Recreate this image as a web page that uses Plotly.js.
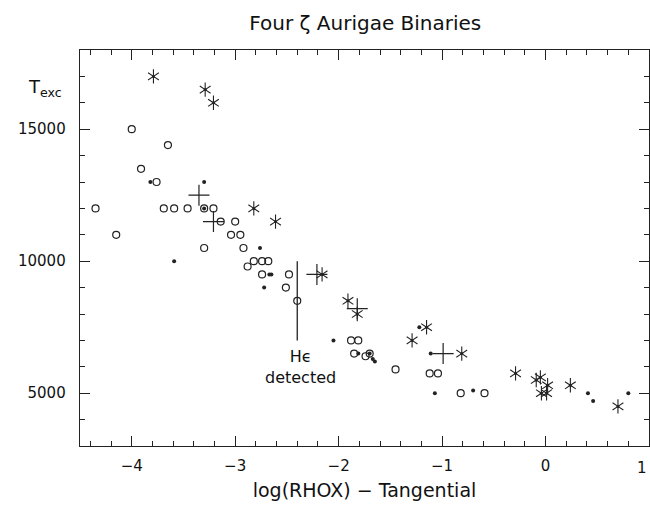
<!DOCTYPE html>
<html>
<head>
<meta charset="utf-8">
<script src="https://cdn.plot.ly/plotly-3.0.1.min.js"></script>
<style>html,body{margin:0;padding:0;background:#fff;}#chart{width:650px;height:508px;}</style>
</head>
<body>
<div id="chart"></div>
<script>
// Open circles
const circleX = [-4.00, -3.65, -3.91, -3.76, -4.35, -3.69, -3.59, -3.46, -3.30, -3.21, -3.14, -3.00, -4.15, -3.04, -2.95, -3.30, -2.92, -2.82, -2.74, -2.68, -2.88, -2.74, -2.48, -2.51, -2.40, -1.88, -1.81, -1.85, -1.74, -1.70, -1.45, -1.12, -1.04, -0.82, -0.59];
const circleY = [15000, 14400, 13500, 13000, 12000, 12000, 12000, 12000, 12000, 12000, 11500, 11500, 11000, 11000, 11000, 10500, 10500, 10000, 10000, 10000, 9800, 9500, 9500, 9000, 8500, 7000, 7000, 6500, 6400, 6500, 5900, 5750, 5750, 5000, 5000];
// Small filled dots
const dotX = [-3.82, -3.30, -3.30, -2.76, -3.59, -2.67, -2.65, -2.72, -2.05, -1.81, -1.70, -1.67, -1.65, -1.22, -1.11, -1.07, -0.70, 0.41, 0.46, 0.80];
const dotY = [13000, 13000, 12000, 10500, 10000, 9500, 9500, 9000, 7000, 6500, 6500, 6300, 6200, 7500, 6500, 5000, 5100, 5000, 4700, 5000];
// Asterisks
const starX = [-3.79, -3.29, -3.21, -2.82, -2.61, -2.16, -1.91, -1.82, -1.15, -1.29, -0.81, -0.29, -0.09, -0.05, 0.02, -0.04, 0.01, 0.24, 0.70];
const starY = [17000, 16500, 16000, 12000, 11500, 9500, 8500, 8000, 7500, 7000, 6500, 5750, 5500, 5600, 5300, 5000, 5000, 5300, 4500];
// Plus signs
const plusX = [-3.35, -3.21, -2.21, -1.82, -0.99];
const plusY = [12500, 11500, 9500, 8200, 6500];
// He-epsilon detection marker line
const heLineX = [-2.40, -2.40];
const heLineY = [7000, 10000];
const heLabelX = -2.37;
const heLabelY = 5990;

const xTickVals = [-4, -3, -2, -1, 0, 1];
const xTickText = ['−4', '−3', '−2', '−1', '0', ''];
const yTickVals = [5000, 10000, 15000];
const yTickText = ['5000', '10000', '15000'];

const xRange = [-4.5, 1];
const yRange = [3000, 18000];

const ink = '#222';
const font = 'DejaVu Sans, Liberation Sans, sans-serif';
const txt = {family: font, color: '#111'};

const traces = [
  {x: heLineX, y: heLineY, mode: 'lines', line: {color: ink, width: 1.3}, hoverinfo: 'skip'},
  {x: circleX, y: circleY, mode: 'markers', marker: {symbol: 'circle-open', size: 7, color: ink, line: {width: 1.2, color: ink}}},
  {x: dotX, y: dotY, mode: 'markers', marker: {symbol: 'circle', size: 4, color: ink}},
  {x: starX, y: starY, mode: 'markers', marker: {symbol: 'y-up-open', size: 9, color: ink, line: {width: 1.1, color: ink}}},
  {x: starX, y: starY, mode: 'markers', marker: {symbol: 'y-down-open', size: 9, color: ink, line: {width: 1.1, color: ink}}},
  {x: starX, y: starY, mode: 'markers', marker: {symbol: 'circle', size: 3, color: ink}},
  {x: plusX, y: plusY, mode: 'markers', marker: {symbol: 'cross-thin-open', size: 15, color: ink, line: {width: 1.2, color: ink}}},
  {x: [], y: [], xaxis: 'x2', yaxis: 'y2', mode: 'markers', hoverinfo: 'skip'}
];

const tickCommon = {ticks: 'inside', ticklen: 10, tickcolor: ink, tickwidth: 1, showgrid: false, zeroline: false,
  showline: true, linecolor: ink, linewidth: 1.3};

const layout = {
  width: 650, height: 508,
  margin: {l: 80, r: 1, t: 50, b: 62},
  paper_bgcolor: '#fff', plot_bgcolor: '#fff',
  showlegend: false,
  font: Object.assign({size: 15}, txt),
  title: {text: 'Four ζ Aurigae Binaries', x: 0.562, xanchor: 'center', y: 0.955, yanchor: 'middle', font: Object.assign({size: 20}, txt)},
  xaxis: Object.assign({}, tickCommon, {
    range: xRange, tickvals: xTickVals, ticktext: xTickText,
    minor: {dtick: 0.2, ticks: 'inside', ticklen: 5, tickcolor: ink, showgrid: false},
    ticklabelstandoff: 6,
    tickfont: Object.assign({size: 15}, txt),
    title: {text: 'log(RHOX) − Tangential', standoff: 9, font: Object.assign({size: 19}, txt)}
  }),
  yaxis: Object.assign({}, tickCommon, {
    range: yRange, tickvals: yTickVals, ticktext: yTickText,
    minor: {dtick: 1000, ticks: 'inside', ticklen: 5, tickcolor: ink, showgrid: false},
    ticklabelstandoff: 10,
    tickfont: Object.assign({size: 15}, txt)
  }),
  xaxis2: Object.assign({}, tickCommon, {
    range: xRange, tickvals: xTickVals, overlaying: 'x', side: 'top', anchor: 'y2', showticklabels: false,
    minor: {dtick: 0.2, ticks: 'inside', ticklen: 5, tickcolor: ink, showgrid: false}
  }),
  yaxis2: Object.assign({}, tickCommon, {
    range: yRange, tickvals: yTickVals, overlaying: 'y', side: 'right', anchor: 'x2', showticklabels: false,
    minor: {dtick: 1000, ticks: 'inside', ticklen: 5, tickcolor: ink, showgrid: false}
  }),
  annotations: [
    {xref: 'paper', yref: 'paper', x: -0.062, y: 0.905, xanchor: 'center', yanchor: 'middle', showarrow: false,
     text: 'T<sub>exc</sub>', font: Object.assign({size: 18}, txt)},
    {x: heLabelX, y: heLabelY, xref: 'x', yref: 'y', showarrow: false, xanchor: 'center', yanchor: 'middle',
     text: 'Hϵ<br>detected', font: Object.assign({size: 16}, txt)},
    {xref: 'paper', yref: 'paper', x: 1.0, y: -0.055, xanchor: 'right', yanchor: 'middle', showarrow: false,
     text: '1', font: Object.assign({size: 15}, txt)}
  ]
};

Plotly.newPlot('chart', traces, layout, {displayModeBar: false, staticPlot: true});
</script>
</body>
</html>
